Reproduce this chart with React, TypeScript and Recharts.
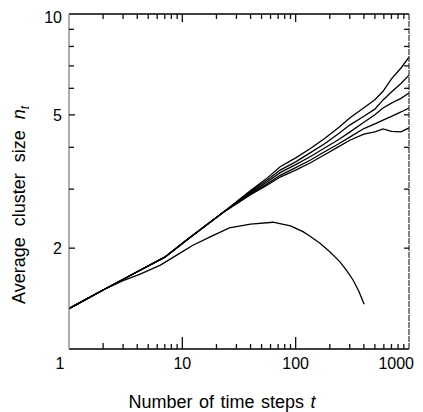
import React from "react";
import { LineChart, Line, XAxis, YAxis } from "recharts";

const FONT = "'Liberation Sans', Arial, sans-serif";

// time steps shared by the five upper curves
const T_MAIN = [1, 2, 4, 7, 11, 17, 23, 30, 40, 55, 73, 100, 134, 180, 240, 300, 400, 500, 590, 700, 850, 1000];
const SERIES_A = [1.32, 1.5, 1.7, 1.88, 2.12, 2.37, 2.56, 2.75, 2.97, 3.22, 3.5, 3.72, 3.96, 4.25, 4.58, 4.89, 5.25, 5.55, 5.88, 6.4, 6.9, 7.44];
const SERIES_B = [1.32, 1.5, 1.7, 1.88, 2.12, 2.37, 2.56, 2.74, 2.95, 3.18, 3.42, 3.62, 3.85, 4.1, 4.4, 4.66, 4.95, 5.2, 5.54, 5.85, 6.2, 6.57];
const SERIES_C = [1.32, 1.5, 1.7, 1.88, 2.12, 2.37, 2.56, 2.73, 2.93, 3.14, 3.36, 3.55, 3.75, 3.98, 4.22, 4.44, 4.75, 5.0, 5.24, 5.42, 5.6, 5.81];
const SERIES_D = [1.32, 1.5, 1.7, 1.88, 2.12, 2.37, 2.56, 2.72, 2.91, 3.1, 3.3, 3.48, 3.66, 3.88, 4.1, 4.29, 4.55, 4.7, 4.82, 4.95, 5.1, 5.24];
const SERIES_E = [1.32, 1.5, 1.7, 1.88, 2.12, 2.37, 2.56, 2.71, 2.89, 3.07, 3.26, 3.42, 3.59, 3.8, 4.02, 4.2, 4.38, 4.45, 4.54, 4.46, 4.45, 4.57];

// lower curve
const T_LOWER = [1, 2, 3, 4.2, 6.4, 9, 12.4, 17.6, 26, 40, 63, 90, 116, 134, 164, 200, 246, 280, 320, 360, 402];
const SERIES_F = [1.32, 1.5, 1.6, 1.67, 1.78, 1.91, 2.04, 2.16, 2.3, 2.36, 2.39, 2.33, 2.24, 2.17, 2.07, 1.95, 1.82, 1.72, 1.61, 1.49, 1.36];

const X_TICKS = [1, 2, 3, 4, 5, 6, 7, 8, 9, 10, 20, 30, 40, 50, 60, 70, 80, 90, 100, 200, 300, 400, 500, 600, 700, 800, 900, 1000];
const X_LABELS = [1, 10, 100, 1000];
const Y_TICKS = [1, 2, 3, 4, 5, 6, 7, 8, 9, 10];
const Y_LABELS = [2, 5, 10];

const mainData = T_MAIN.map((t, i) => ({
  t,
  a: SERIES_A[i],
  b: SERIES_B[i],
  c: SERIES_C[i],
  d: SERIES_D[i],
  e: SERIES_E[i],
}));
const lowerData = T_LOWER.map((t, i) => ({ t, f: SERIES_F[i] }));

const CHART_W = 415;
const CHART_H = 404;
const MARGIN = { top: 5, right: 13, bottom: 0, left: 0 };
const BOTTOM_AXIS_H = 63;
const TOP_AXIS_H = 1;
const PLOT_H = CHART_H - MARGIN.top - MARGIN.bottom - BOTTOM_AXIS_H - TOP_AXIS_H;

const TICK_COLOR = "#111";

const BottomTick = (props: any) => {
  const { x, y, payload } = props;
  const v = payload.value;
  const major = X_LABELS.includes(v);
  const edge = v === 1 || v === 1000;
  const len = edge ? 0 : major ? 12 : v === 2 ? 6 : 5;
  const topLen = edge ? 0 : major ? 8 : 5;
  const yTop = y - PLOT_H;
  return (
    <g>
      {len > 0 && <rect x={x - 0.65} y={y - len} width={1.3} height={len} fill={TICK_COLOR} stroke="none" />}
      {topLen > 0 && <rect x={x - 0.65} y={yTop} width={1.3} height={topLen} fill={TICK_COLOR} stroke="none" />}
      {major && (
        <text
          x={v === 1 ? x - 9 : v === 1000 ? x + 5 : x}
          y={y + 20}
          textAnchor={v === 1000 ? "end" : "middle"}
          fontFamily={FONT}
          fontSize={16}
          fill="#000"
          stroke="none"
        >
          {v}
        </text>
      )}
    </g>
  );
};

const LeftTick = (props: any) => {
  const { x, y, payload } = props;
  const v = payload.value;
  const major = Y_LABELS.includes(v);
  const len = v === 1 || v === 10 ? 0 : major ? 6 : 5;
  const dy = v === 10 ? 3 : 0;
  return (
    <g>
      {len > 0 && <rect x={x} y={y - 0.65} width={len} height={1.3} fill={TICK_COLOR} stroke="none" />}
      {major && (
        <text x={x - 7} y={y + dy} dy="0.36em" textAnchor="end" fontFamily={FONT} fontSize={16} fill="#000" stroke="none">
          {v}
        </text>
      )}
    </g>
  );
};

const RightTick = (props: any) => {
  const { x, y, payload } = props;
  const v = payload.value;
  const len = v === 1 || v === 10 ? 0 : 5;
  return <g>{len > 0 && <rect x={x - len} y={y - 0.65} width={len} height={1.3} fill={TICK_COLOR} stroke="none" />}</g>;
};

const lineProps = {
  type: "linear" as const,
  stroke: "#000",
  strokeWidth: 1.3,
  dot: false,
  isAnimationActive: false,
  xAxisId: "bottom",
  yAxisId: "left",
};

export default function App() {
  return (
    <div style={{ width: CHART_W, height: CHART_H, position: "relative" }}>
      <style>{"html,body{overflow:hidden}"}</style>
      <LineChart width={CHART_W} height={CHART_H} margin={MARGIN}>
        <XAxis
          xAxisId="bottom"
          dataKey="t"
          type="number"
          scale="log"
          domain={[1, 1000]}
          allowDataOverflow
          ticks={X_TICKS}
          interval={0}
          height={BOTTOM_AXIS_H}
          tickSize={0}
          tickMargin={0}
          tickLine={false}
          axisLine={{ stroke: "#000", strokeWidth: 1.5 }}
          tick={<BottomTick />}
        />
        <XAxis
          xAxisId="top"
          orientation="top"
          type="number"
          scale="log"
          domain={[1, 1000]}
          allowDataOverflow
          ticks={X_TICKS}
          height={TOP_AXIS_H}
          tickLine={false}
          tick={false}
          axisLine={{ stroke: "#000", strokeWidth: 1.5 }}
        />
        <YAxis
          yAxisId="left"
          type="number"
          scale="log"
          domain={[1, 10]}
          allowDataOverflow
          ticks={Y_TICKS}
          interval={0}
          width={61}
          tickSize={0}
          tickMargin={0}
          tickLine={false}
          axisLine={{ stroke: "#777", strokeWidth: 1.2 }}
          tick={<LeftTick />}
        />
        <YAxis
          yAxisId="right"
          orientation="right"
          type="number"
          scale="log"
          domain={[1, 10]}
          allowDataOverflow
          ticks={Y_TICKS}
          interval={0}
          width={1}
          tickSize={0}
          tickMargin={0}
          tickLine={false}
          axisLine={{ stroke: "#333", strokeWidth: 1.2, strokeDasharray: "6 1" }}
          tick={<RightTick />}
        />
        <Line {...lineProps} data={mainData} dataKey="a" />
        <Line {...lineProps} data={mainData} dataKey="b" />
        <Line {...lineProps} data={mainData} dataKey="c" />
        <Line {...lineProps} data={mainData} dataKey="d" />
        <Line {...lineProps} data={mainData} dataKey="e" />
        <Line {...lineProps} data={lowerData} dataKey="f" />
        <text x={214} y={400} textAnchor="middle" fontFamily={FONT} fontSize={18} fill="#000" wordSpacing={1.5}>
          Number of time steps <tspan fontStyle="italic">t</tspan>
        </text>
        <text
          transform="translate(17, 197) rotate(-90)"
          textAnchor="middle"
          fontFamily={FONT}
          fontSize={18}
          fill="#000"
          wordSpacing={6}
        >
          Average cluster size <tspan fontStyle="italic">n</tspan>
          <tspan fontStyle="italic" fontSize={12} dy={4}>t</tspan>
        </text>
      </LineChart>
    </div>
  );
}
